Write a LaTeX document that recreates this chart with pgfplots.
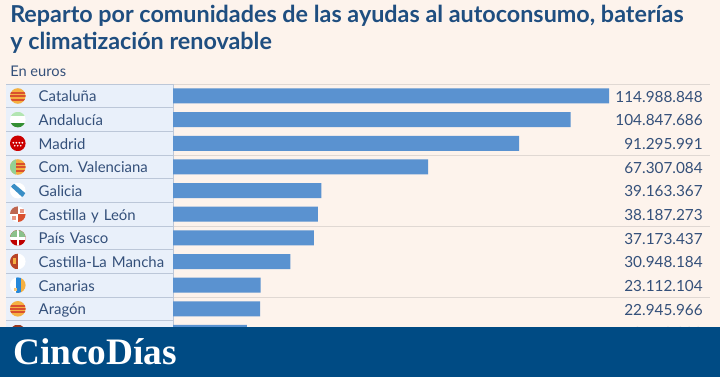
\documentclass[border=0pt]{standalone}
\usepackage{fontspec}
\setmainfont{Lato}
\newfontfamily\logofont{Liberation Serif}
\newfontfamily\labfont[WordSpace=0.7]{Lato}
\usepackage{pgfplots}
\usepackage{pgfplotstable}
\pgfplotsset{compat=1.18}
\definecolor{bg}{HTML}{FDF3EC}
\definecolor{panel}{HTML}{E9F0FA}
\definecolor{sep}{HTML}{BCC7D8}
\definecolor{rule}{HTML}{E0D8D3}
\definecolor{barc}{HTML}{5A92D0}
\definecolor{ink}{HTML}{34507A}
\definecolor{titlec}{HTML}{1F4E80}
\definecolor{banner}{HTML}{004B84}
\definecolor{fo}{HTML}{F5B041}
\definecolor{fr}{HTML}{D9502E}
\pgfplotstableread{
row value pos lab
0 114988848 139780000 114.988.848
1 104847686 139780000 104.847.686
2 91295991 139780000 91.295.991
3 67307084 139780000 67.307.084
4 39163367 139780000 39.163.367
5 38187273 139780000 38.187.273
6 37173437 139780000 37.173.437
7 30948184 139780000 30.948.184
8 23112104 139780000 23.112.104
9 22945966 139780000 22.945.966
10 19450000 139780000 19.450.000
}\datatable
% flag: centre y in px, body
\newcommand{\flag}[2]{%
  \begin{scope}[shift={(17.8,#1)}]
    \begin{scope}
      \clip (0,0) circle (7.8);
      #2
    \end{scope}
  \end{scope}}
\begin{document}
\frenchspacing
\begin{tikzpicture}[x=0.75pt,y=-0.75pt]
\fill[bg] (0,0) rectangle (720,377);
\path[use as bounding box] (0,0) rectangle (720,377);
\node[anchor=base west,inner sep=0,text=titlec,font=\fontsize{17.5pt}{20pt}\selectfont\bfseries] at (10,23) {Reparto por comunidades de las ayudas al autoconsumo, baterías};
\node[anchor=base west,inner sep=0,text=titlec,font=\fontsize{17.5pt}{20pt}\selectfont\bfseries] at (10,49.5) {y climatización renovable};
\node[anchor=base west,inner sep=0,text=ink,font=\fontsize{11pt}{12pt}\selectfont] at (10,77) {En euros};
% label panel
\fill[panel] (6,84) rectangle (173,340);
\foreach \y in {108,131.6,155.3,179,202.6,226.2,249.9,273.5,297.2,320.8}
  \draw[sep,line width=0.75pt] (6,\y) -- (173,\y);
\draw[sep,line width=1.2pt] (6,84.5) -- (173,84.5);
\foreach \y in {84.5,155.3,226.2,297.2}
  \draw[rule,line width=0.9pt] (173,\y) -- (710,\y);
% flags
\flag{96}{\fill[fo] (-8,-8) rectangle (8,8); \foreach \a in {-4,-0.6,2.8} \fill[fr] (-8,\a) rectangle (8,\a+1.8);}
\flag{119.6}{\fill[white] (-8,-8) rectangle (8,8); \fill[gray!50!green!40] (-8,-8) rectangle (8,-3.5); \fill[green!45!black!80] (-8,3) rectangle (8,8);}
\flag{143.3}{\fill[red!80!black] (-8,-8) rectangle (8,8); \foreach \a in {-4.5,-1.5,1.5,4.5} \fill[white] (\a,-0.5) circle (1); \foreach \a in {-3,0,3} \fill[white] (\a,2.5) circle (0.9);}
\flag{167}{\fill[fo] (-8,-8) rectangle (8,8); \fill[gray!60!green!60] (-8,-8) rectangle (-2,8); \foreach \a in {-4,-0.6,2.8} \fill[fr] (-2,\a) rectangle (8,\a+1.8);}
\flag{190.6}{\fill[white] (-8,-8) rectangle (8,8); \fill[blue!40!cyan!55!gray] (-8,-5) -- (-5,-8) -- (8,3) -- (5,7) -- cycle;}
\flag{214.2}{\fill[white] (-8,-8) rectangle (8,8); \fill[fr!80!black!80] (-8,-8) rectangle (0,0); \fill[fr] (0,0) rectangle (8,8); \fill[fr!60] (2,-5) rectangle (6,-1); \fill[fr!60] (-6,2) rectangle (-2,6);}
\flag{237.9}{\fill[red!75!black] (-8,-8) rectangle (8,8); \fill[gray!70!green!70] (-8,-8) rectangle (8,-1); \fill[white] (-8,-1) rectangle (8,2); \fill[white] (-1.3,-8) rectangle (1.3,8);}
\flag{261.5}{\fill[white] (-8,-8) rectangle (8,8); \fill[fr!85!black] (-8,-8) rectangle (0,8); \fill[fo] (-4.5,-3) rectangle (-1.5,3);}
\flag{285.2}{\fill[white] (-8,-8) rectangle (-2,8); \fill[blue!45!cyan!70!gray] (-2,-8) rectangle (3,8); \fill[fo] (3,-8) rectangle (8,8); \fill[fo!70] (-4,3) rectangle (-1,6);}
\flag{308.8}{\fill[fo] (-8,-8) rectangle (8,8); \foreach \a in {-4.2,-0.8,2.6} \fill[fr] (-8,\a) rectangle (8,\a+2);}
\flag{332.5}{\fill[fr!70!black] (-8,-8) rectangle (8,8);}
\begin{axis}[
  at={(129.75pt,-258.75pt)}, anchor=south west,
  scale only axis,
  width=410.25pt, height=195.75pt,
  xmin=0, xmax=144264000,
  ymin=-0.507, ymax=10.53,
  y dir=reverse,
  hide x axis,
  axis y line*=left,
  axis line style={sep,line width=0.5pt},
  ytick={0,1,2,3,4,5,6,7,8,9,10},
  yticklabels={Cataluña,Andalucía,Madrid,Com. Valenciana,Galicia,Castilla y León,País Vasco,Castilla-La Mancha,Canarias,Aragón,Murcia},
  major tick length=0pt,
  yticklabel style={text=ink,font=\labfont\fontsize{11.2pt}{13pt}\selectfont,inner sep=0pt,text width=100.5pt,align=left,text height=8.5pt,text depth=2.5pt,yshift=-1.4pt},
  clip=false,
]
\addplot[xbar,bar width=11.25pt,bar shift=0pt,fill=barc,draw=none] table[x=value,y=row] {\datatable};
\addplot[draw=none,mark=none,nodes near coords,point meta=explicit symbolic,
  nodes near coords align={anchor=east},
  every node near coord/.append style={text=ink,font=\fontsize{11.5pt}{13pt}\selectfont,inner sep=0pt,yshift=-0.6pt}]
  table[x=pos,y=row,meta=lab] {\datatable};
\end{axis}
\fill[banner] (0,327) rectangle (720,377);
\node[anchor=base west,inner sep=0,text=white,font=\logofont\fontsize{28pt}{30pt}\selectfont\bfseries] at (13,364) {CincoDías};
\end{tikzpicture}
\end{document}
